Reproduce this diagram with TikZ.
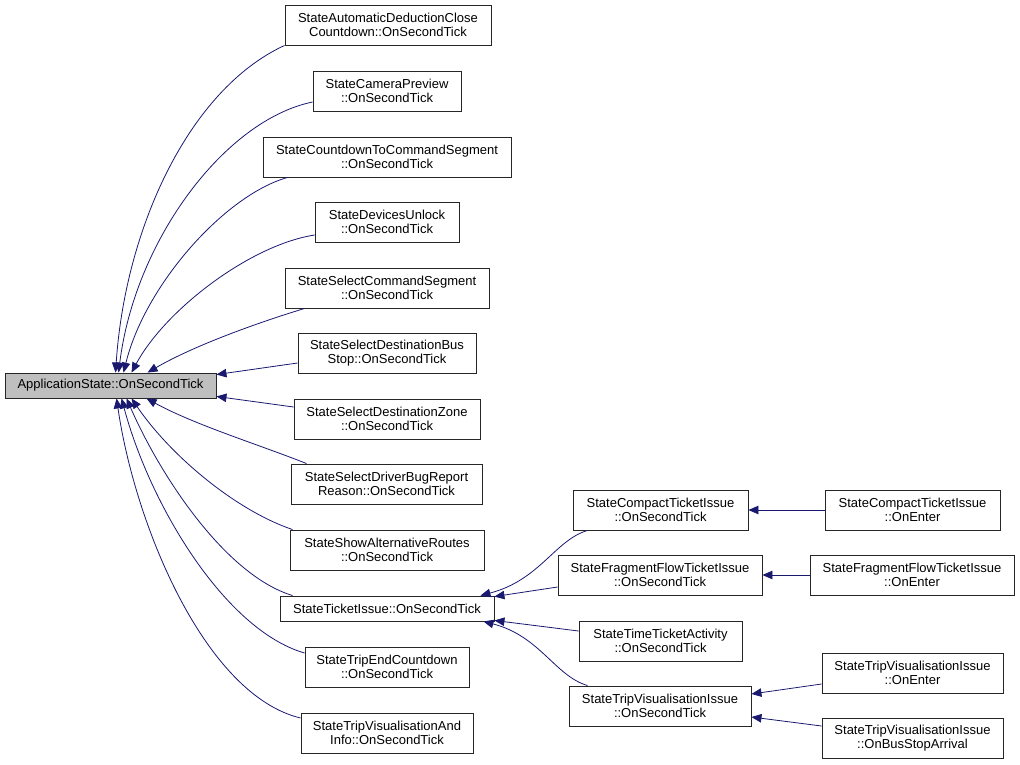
\documentclass[tikz,border=0pt]{standalone}
\usepackage{fontspec}
\setmainfont{Liberation Sans}
\usetikzlibrary{arrows.meta}
\definecolor{edgeblue}{HTML}{191970}
\definecolor{mainfill}{HTML}{BFBFBF}
\begin{document}
\begin{tikzpicture}[x=1pt,y=-1pt,
  box/.style={draw=black!85, line width=0.9pt, fill=white, inner sep=0pt, align=center,
    minimum height=40pt, font=\fontsize{13}{14.5}\selectfont},
  onebox/.style={box, minimum height=25pt},
  edge/.style={draw=edgeblue, line width=0.8pt, -{Triangle[length=10pt,width=8.5pt]}}]
\useasboundingbox (0,0) rectangle (1020,764);
% main node
\node[onebox, fill=mainfill, minimum width=211pt] (main) at (110.5,385.5) {ApplicationState::OnSecondTick};
% second column
\node[box, minimum width=206pt] (n1) at (388,25) {StateAutomaticDeductionClose\\Countdown::OnSecondTick};
\node[box, minimum width=148pt] (n2) at (387,91) {StateCameraPreview\\::OnSecondTick};
\node[box, minimum width=248pt] (n3) at (387,157) {StateCountdownToCommandSegment\\::OnSecondTick};
\node[box, minimum width=144pt] (n4) at (387,222) {StateDevicesUnlock\\::OnSecondTick};
\node[box, minimum width=204pt] (n5) at (387,288) {StateSelectCommandSegment\\::OnSecondTick};
\node[box, minimum width=178pt] (n6) at (387,353) {StateSelectDestinationBus\\Stop::OnSecondTick};
\node[box, minimum width=186pt] (n7) at (387,419) {StateSelectDestinationZone\\::OnSecondTick};
\node[box, minimum width=191pt] (n8) at (386.5,484) {StateSelectDriverBugReport\\Reason::OnSecondTick};
\node[box, minimum width=194pt] (n9) at (387,550) {StateShowAlternativeRoutes\\::OnSecondTick};
\node[onebox, minimum width=214pt] (n10) at (387,608.5) {StateTicketIssue::OnSecondTick};
\node[box, minimum width=164pt] (n11) at (387,667) {StateTripEndCountdown\\::OnSecondTick};
\node[box, minimum width=172pt] (n12) at (387,733) {StateTripVisualisationAnd\\Info::OnSecondTick};
% third column
\node[box, minimum width=175pt] (c1) at (660.5,510) {StateCompactTicketIssue\\::OnSecondTick};
\node[box, minimum width=204pt] (c2) at (660,575) {StateFragmentFlowTicketIssue\\::OnSecondTick};
\node[box, minimum width=163pt] (c3) at (660.5,641) {StateTimeTicketActivity\\::OnSecondTick};
\node[box, minimum width=182pt] (c4) at (660,706) {StateTripVisualisationIssue\\::OnSecondTick};
% fourth column
\node[box, minimum width=175pt] (d1) at (912.5,510) {StateCompactTicketIssue\\::OnEnter};
\node[box, minimum width=204pt] (d2) at (912,575) {StateFragmentFlowTicketIssue\\::OnEnter};
\node[box, minimum width=181pt] (d3) at (912.5,673) {StateTripVisualisationIssue\\::OnEnter};
\node[box, minimum width=181pt] (d4) at (912.5,738) {StateTripVisualisationIssue\\::OnBusStopArrival};
% edges into main
\draw[edge] (n1.south west) .. controls (188,90) and (125,230) .. ([xshift=111pt]main.north west);
\draw[edge] ([yshift=-11pt]n2.west) .. controls (225,120) and (135,240) .. ([xshift=114pt]main.north west);
\draw[edge] ([xshift=25pt]n3.south west) .. controls (225,195) and (145,285) .. ([xshift=119pt]main.north west);
\draw[edge] ([yshift=-13pt]n4.west) .. controls (250,245) and (165,310) .. ([xshift=127pt]main.north west);
\draw[edge] ([xshift=20pt]n5.south west) .. controls (260,322) and (195,345) .. ([xshift=143pt]main.north west);
\draw[edge] ([yshift=-10pt]n6.west) -- ([yshift=-2pt]main.north east);
\draw[edge] ([yshift=12pt]n7.west) -- ([yshift=2pt]main.south east);
\draw[edge] ([xshift=16pt]n8.north west) .. controls (260,445) and (195,425) .. ([xshift=142pt]main.south west);
\draw[edge] ([xshift=3pt]n9.north west) .. controls (235,510) and (170,455) .. ([xshift=127pt]main.south west);
\draw[edge] ([xshift=13pt]n10.north west) .. controls (225,575) and (160,475) .. ([xshift=122pt]main.south west);
\draw[edge] ([yshift=14pt]n11.west) .. controls (225,630) and (150,505) .. ([xshift=117pt]main.south west);
\draw[edge] ([yshift=15pt]n12.west) .. controls (205,695) and (135,525) .. ([xshift=112pt]main.south west);
% edges into StateTicketIssue
\draw[edge] ([xshift=15pt]c1.south west) .. controls (555,540) and (540,580) .. ([xshift=-14pt]n10.north east);
\draw[edge] ([yshift=-12pt]c2.west) -- ([yshift=-1pt]n10.north east);
\draw[edge] ([yshift=10pt]c3.west) -- ([yshift=1pt]n10.south east);
\draw[edge] ([xshift=19pt]c4.north west) .. controls (555,676) and (540,636) .. ([xshift=-11pt]n10.south east);
% edges from fourth column
\draw[edge] (d1.west) -- (c1.east);
\draw[edge] (d2.west) -- (c2.east);
\draw[edge] ([yshift=-11pt]d3.west) -- ([yshift=12pt]c4.east);
\draw[edge] ([yshift=12pt]d4.west) -- ([yshift=-11pt]c4.east);
\end{tikzpicture}
\end{document}
